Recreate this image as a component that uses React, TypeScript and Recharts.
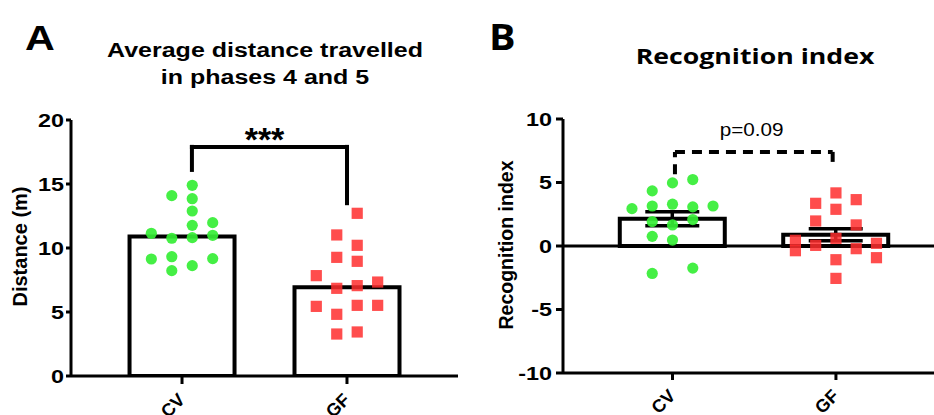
import React from 'react';
import {
  ComposedChart,
  Bar,
  Scatter,
  XAxis,
  YAxis,
  ReferenceLine,
  ReferenceDot,
  ErrorBar,
} from 'recharts';

// ---------- data ----------
const groups = ['CV', 'GF'];
const groupPositions = [1, 2];

// Panel A: average distance travelled in phases 4 and 5 (m)
const distanceMean = [10.89, 6.93];
const cvDistance = [11.15, 9.14, 14.09, 10.76, 9.32, 8.23, 14.9, 13.85, 12.89, 11.77, 10.81, 8.62, 11.98, 10.99, 9.17];
const cvDistanceLane = [-1.5, -1.5, -0.5, -0.5, -0.5, -0.5, 0.5, 0.5, 0.5, 0.5, 0.5, 0.5, 1.5, 1.5, 1.5];
const gfDistance = [7.84, 5.44, 11.02, 9.27, 6.85, 4.82, 3.28, 12.71, 10.21, 8.96, 7.06, 5.52, 3.44, 7.34, 5.52];
const gfDistanceLane = [-1.5, -1.5, -0.5, -0.5, -0.5, -0.5, -0.5, 0.5, 0.5, 0.5, 0.5, 0.5, 0.5, 1.5, 1.5];
const distanceTicks = [0, 5, 10, 15, 20];
const distanceSignificance = '***';

// Panel B: recognition index
const recognitionMean = [2.15, 0.88];
const recognitionSem = [0.55, 0.47];
const cvRecognition = [2.94, 4.34, 3.15, 1.92, 0.76, -2.16, 4.97, 3.29, 1.66, 0.47, 5.23, 3.08, 2.08, -1.74, 3.15];
const cvRecognitionLane = [-2, -1, -1, -1, -1, -1, 0, 0, 0, 0, 1, 1, 1, 1, 2];
const gfRecognition = [0.45, -0.37, 3.36, 1.97, 0.05, 4.18, 2.89, 0.6, -1.08, -2.55, 3.65, 1.66, -0.21, 0.21, -0.92];
const gfRecognitionLane = [-2, -2, -1, -1, -1, 0, 0, 0, 0, 0, 1, 1, 1, 2, 2];
const recognitionTicks = [-10, -5, 0, 5, 10];
const recognitionPValue = 'p=0.09';

// ---------- derived tables ----------
const LANE = 0.124;
const barsA = groupPositions.map((x, i) => ({ x, mean: distanceMean[i] }));
const barsB = groupPositions.map((x, i) => ({ x, mean: recognitionMean[i], sem: recognitionSem[i] }));
const swarm = (vals: number[], lanes: number[], g: number) =>
  vals.map((y, i) => ({ x: groupPositions[g] + lanes[i] * LANE, y }));
const cvA = swarm(cvDistance, cvDistanceLane, 0);
const gfA = swarm(gfDistance, gfDistanceLane, 1);
const cvB = swarm(cvRecognition, cvRecognitionLane, 0);
const gfB = swarm(gfRecognition, gfRecognitionLane, 1);

// ---------- styles ----------
const FONT = '"Liberation Sans", Arial, Helvetica, sans-serif';
const SEGOE = '"Open Sans", "Noto Sans", sans-serif';
const GREEN = '#35ee35';
const RED = '#ff2e2e';
const axisStyle = { stroke: '#000', strokeWidth: 3 };

const YTick = (props: any) => {
  const { x, y, payload } = props;
  return (
    <g transform={`translate(${x},${y})`}>
      <text
        x={0}
        y={0}
        dy={6.5}
        textAnchor="end"
        transform="scale(1.3,1)"
        fontFamily={FONT}
        fontWeight="bold"
        fontSize={18}
        fill="#000"
      >
        {String(payload.value)}
      </text>
    </g>
  );
};

const XTick = (props: any) => {
  const { x, y, payload } = props;
  const idx = groupPositions.indexOf(payload.value);
  const ax = x + 4;
  const ay = y + 15;
  return (
    <text
      x={ax}
      y={ay}
      transform={`rotate(-45 ${ax} ${ay})`}
      textAnchor="end"
      fontFamily={FONT}
      fontWeight="bold"
      fontSize={18}
      fill="#000"
    >
      {groups[idx]}
    </text>
  );
};

const GreenDot = (p: any) => (
  <circle cx={p.cx} cy={p.cy} r={5.6} fill={GREEN} fillOpacity={0.92} />
);
const RedSquare = (p: any) => (
  <rect x={p.cx - 5.6} y={p.cy - 5.6} width={11.2} height={11.2} fill={RED} fillOpacity={0.85} />
);

const TextMark = (txt: string, size: number, weight: string, sx: number, dy: number) => (p: any) => (
  <g transform={`translate(${p.cx},${p.cy + dy})`}>
    <text
      x={0}
      y={0}
      textAnchor="middle"
      transform={`scale(${sx},1)`}
      fontFamily={FONT}
      fontWeight={weight}
      fontSize={size}
      fill="#000"
    >
      {txt}
    </text>
  </g>
);

const bracketProps = {
  stroke: '#000',
  strokeWidth: 4,
  strokeLinecap: 'square' as const,
  ifOverflow: 'visible' as const,
};

const PanelA = () => (
  <ComposedChart
    width={470}
    height={415}
    data={barsA}
    margin={{ top: 120, right: 12, bottom: 0, left: 0 }}
  >
    <XAxis
      dataKey="x"
      type="number"
      domain={[0.327, 2.673]}
      ticks={groupPositions}
      interval={0}
      allowDataOverflow
      height={39}
      tickSize={8}
      tick={<XTick />}
      axisLine={axisStyle}
      tickLine={axisStyle}
    />
    <XAxis
      xAxisId="bars"
      dataKey="x"
      type="number"
      domain={[0.327, 2.673]}
      allowDataOverflow
      hide
    />
    <YAxis
      type="number"
      domain={[0, 20]}
      ticks={distanceTicks}
      interval={0}
      allowDataOverflow
      width={71}
      tickSize={5}
      tickMargin={2}
      tick={<YTick />}
      axisLine={axisStyle}
      tickLine={axisStyle}
    />
    <Bar xAxisId="bars" dataKey="mean" barSize={105} fill="#fff" stroke="#000" strokeWidth={4} isAnimationActive={false} />
    <Scatter data={cvA} dataKey="y" shape={GreenDot} isAnimationActive={false} />
    <Scatter data={gfA} dataKey="y" shape={RedSquare} isAnimationActive={false} />
    <ReferenceLine segment={[{ x: 1.06, y: 16.1 }, { x: 1.06, y: 17.9 }]} {...bracketProps} />
    <ReferenceLine segment={[{ x: 1.06, y: 17.9 }, { x: 2, y: 17.9 }]} {...bracketProps} />
    <ReferenceLine segment={[{ x: 2, y: 17.9 }, { x: 2, y: 13.5 }]} {...bracketProps} />
    <ReferenceDot
      x={1.5}
      y={19.1}
      r={0}
      ifOverflow="visible"
      shape={TextMark(distanceSignificance, 34, 'bold', 1, 19)}
    />
  </ComposedChart>
);

const dashedProps = {
  stroke: '#000',
  strokeWidth: 4,
  strokeDasharray: '10 7',
  ifOverflow: 'visible' as const,
};

const PanelB = () => (
  <ComposedChart
    width={464}
    height={415}
    data={barsB}
    margin={{ top: 119, right: 0, bottom: 0, left: 0 }}
  >
    <XAxis
      dataKey="x"
      type="number"
      domain={[0.33, 2.6]}
      ticks={groupPositions}
      interval={0}
      allowDataOverflow
      height={42}
      tickSize={7}
      tick={<XTick />}
      axisLine={axisStyle}
      tickLine={axisStyle}
    />
    <XAxis
      xAxisId="bars"
      dataKey="x"
      type="number"
      domain={[0.33, 2.6]}
      allowDataOverflow
      hide
    />
    <YAxis
      type="number"
      domain={[-10, 10]}
      ticks={recognitionTicks}
      interval={0}
      allowDataOverflow
      width={93}
      tickSize={7}
      tickMargin={4}
      tick={<YTick />}
      axisLine={axisStyle}
      tickLine={axisStyle}
    />
    <ReferenceLine y={0} stroke="#000" strokeWidth={3} />
    <Bar xAxisId="bars" dataKey="mean" barSize={105} fill="#fff" stroke="#000" strokeWidth={4} isAnimationActive={false}>
      <ErrorBar dataKey="sem" width={27} stroke="#000" strokeWidth={3.5} direction="y" />
    </Bar>
    <Scatter data={cvB} dataKey="y" shape={GreenDot} isAnimationActive={false} />
    <Scatter data={gfB} dataKey="y" shape={RedSquare} isAnimationActive={false} />
    <ReferenceLine segment={[{ x: 1.015, y: 5.65 }, { x: 1.015, y: 7.41 }]} {...dashedProps} />
    <ReferenceLine segment={[{ x: 1.015, y: 7.41 }, { x: 1.98, y: 7.41 }]} {...dashedProps} />
    <ReferenceLine segment={[{ x: 1.98, y: 7.41 }, { x: 1.98, y: 6.17 }]} {...dashedProps} />
    <ReferenceDot
      x={1.484}
      y={8.67}
      r={0}
      ifOverflow="visible"
      shape={TextMark(recognitionPValue, 18, 'normal', 1.15, 0)}
    />
  </ComposedChart>
);

export default function App() {
  return (
    <div
      style={{
        position: 'absolute',
        left: 0,
        top: 0,
        width: 934,
        height: 415,
        overflow: 'hidden',
        background: '#fff',
      }}
    >
      <div style={{ position: 'absolute', left: 0, top: 0 }}>
        <PanelA />
      </div>
      <div style={{ position: 'absolute', left: 470, top: 0 }}>
        <PanelB />
      </div>
      <svg
        width={934}
        height={415}
        style={{ position: 'absolute', left: 0, top: 0, pointerEvents: 'none' }}
      >
        <g transform="translate(25,50) scale(1.18,1)">
          <text x={0} y={0} fontFamily={FONT} fontWeight="bold" fontSize={35} fill="#000">
            A
          </text>
        </g>
        <g transform="translate(489,50) scale(1.13,1)">
          <text x={0} y={0} fontFamily={SEGOE} fontWeight="bold" fontSize={35} fill="#000">
            B
          </text>
        </g>
        <g transform="translate(265,57) scale(1.22,1)">
          <text x={0} y={0} textAnchor="middle" fontFamily={FONT} fontWeight="bold" fontSize={20.5} fill="#000">
            Average distance travelled
          </text>
        </g>
        <g transform="translate(265,84) scale(1.22,1)">
          <text x={0} y={0} textAnchor="middle" fontFamily={FONT} fontWeight="bold" fontSize={20.5} fill="#000">
            in phases 4 and 5
          </text>
        </g>
        <g transform="translate(755,64) scale(1.27,1)">
          <text x={0} y={0} textAnchor="middle" fontFamily={SEGOE} fontWeight="bold" fontSize={21} fill="#000">
            Recognition index
          </text>
        </g>
        <text
          x={0}
          y={0}
          transform="translate(27,246.5) rotate(-90)"
          textAnchor="middle"
          fontFamily={FONT}
          fontWeight="bold"
          fontSize={20}
          fill="#000"
        >
          Distance (m)
        </text>
        <text
          x={0}
          y={0}
          transform="translate(513,245) rotate(-90)"
          textAnchor="middle"
          fontFamily={FONT}
          fontWeight="bold"
          fontSize={19.5}
          fill="#000"
        >
          Recognition index
        </text>
      </svg>
    </div>
  );
}
